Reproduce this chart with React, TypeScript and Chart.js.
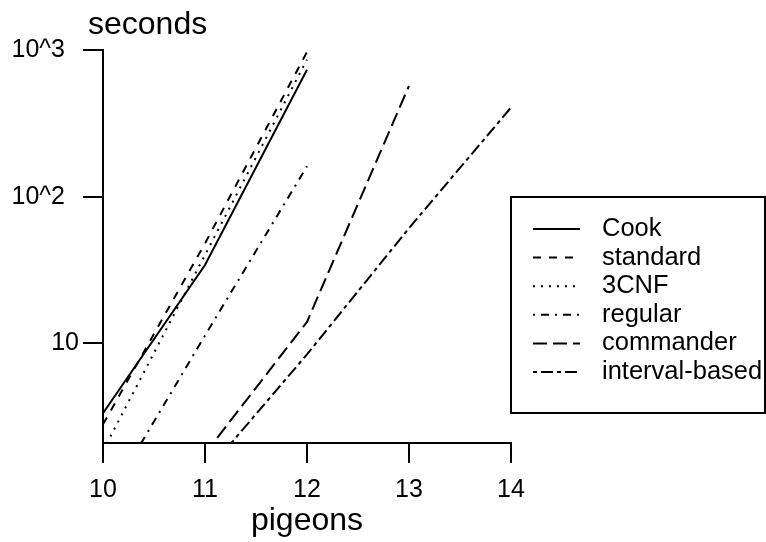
import React, { useEffect, useRef } from 'react';
import { Chart, registerables } from 'chart.js';

Chart.register(...registerables);

// ---- data ----
const seriesNames = ['Cook', 'standard', '3CNF', 'regular', 'commander', 'interval-based'];
const cookX = [10, 11, 12];
const cookY = [3.34, 34.2, 734];
const standardX = [10, 11, 12];
const standardY = [2.8, 48, 970];
const cnfX = [10, 11, 12];
const cnfY = [1.85, 40, 860];
const regularX = [10, 11, 12];
const regularY = [0.76, 11.3, 161];
const commanderX = [11, 12, 13];
const commanderY = [1.77, 14.0, 570];
const intervalX = [11, 12, 13, 14];
const intervalY = [1.29, 8.4, 61, 405];
const xTickValues = [10, 11, 12, 13, 14];
const yTickValues = [10, 100, 1000];
const yTickLabels = ['10', '10^2', '10^3'];
const xTitle = 'pigeons';
const yTitle = 'seconds';

// ---- styles ----
const FONT = '"Liberation Sans", Arial, Helvetica, sans-serif';
const DASHES: number[][] = [[], [8, 8], [2, 6], [2, 6, 8, 6], [14, 6], [4, 4, 12, 4]];

const xs = [cookX, standardX, cnfX, regularX, commanderX, intervalX];
const ys = [cookY, standardY, cnfY, regularY, commanderY, intervalY];

const rPlugin = {
  id: 'rStyle',
  afterDraw(chart: any) {
    const ctx = chart.ctx as CanvasRenderingContext2D;
    const area = chart.chartArea;
    const yScale = chart.scales.y;
    ctx.save();
    ctx.fillStyle = '#000';
    ctx.strokeStyle = '#000';

    // y tick labels
    ctx.font = `25px ${FONT}`;
    ctx.textBaseline = 'middle';
    ctx.textAlign = 'right';
    yTickValues.forEach((v, i) => {
      const py = yScale.getPixelForValue(v);
      const lab = yTickLabels[i];
      const right = lab.length > 2 ? area.left - 38 : area.left - 24;
      ctx.fillText(lab, right, py);
    });

    // axis titles
    ctx.font = `32px ${FONT}`;
    ctx.textBaseline = 'alphabetic';
    ctx.textAlign = 'left';
    ctx.fillText(yTitle, 88, 34);
    ctx.textAlign = 'center';
    ctx.fillText(xTitle, (area.left + area.right) / 2, 530);

    // legend
    const bx = 511, by = 197, bw = 254, bh = 216;
    ctx.lineWidth = 2;
    ctx.setLineDash([]);
    ctx.strokeRect(bx, by, bw, bh);
    ctx.font = `25.5px ${FONT}`;
    ctx.textAlign = 'left';
    ctx.textBaseline = 'middle';
    chart.data.datasets.forEach((ds: any, i: number) => {
      const ry = 229 + i * 28.6;
      ctx.beginPath();
      ctx.setLineDash(ds.borderDash || []);
      ctx.lineWidth = 2;
      ctx.moveTo(533, ry);
      ctx.lineTo(580, ry);
      ctx.stroke();
      ctx.setLineDash([]);
      ctx.fillText(ds.label, 602, ry);
    });
    ctx.restore();
  },
};

export default function App() {
  const ref = useRef<HTMLCanvasElement | null>(null);
  useEffect(() => {
    if (!ref.current) return;
    const datasets = seriesNames.map((name, i) => ({
      label: name,
      data: xs[i].map((x, j) => ({ x, y: ys[i][j] })),
      borderColor: '#000',
      backgroundColor: '#000',
      borderWidth: 2,
      borderDash: DASHES[i],
      pointRadius: 0,
      fill: false,
      tension: 0,
    }));
    const chart = new Chart(ref.current, {
      type: 'line',
      data: { datasets },
      plugins: [rPlugin],
      options: {
        responsive: false,
        animation: false,
        devicePixelRatio: 1,
        layout: { padding: { left: 0, top: 50, right: 255, bottom: 0 } },
        plugins: { legend: { display: false }, tooltip: { enabled: false } },
        scales: {
          x: {
            type: 'linear',
            min: 10,
            max: 14,
            afterBuildTicks: (s: any) => {
              s.ticks = xTickValues.map((v) => ({ value: v }));
            },
            afterFit: (s: any) => {
              s.height = 99;
            },
            ticks: {
              color: '#000',
              font: { family: FONT, size: 25 },
              padding: 12,
              maxRotation: 0,
              autoSkip: false,
            },
            grid: {
              drawOnChartArea: false,
              drawTicks: true,
              tickLength: 20,
              tickColor: '#000',
              tickWidth: 2,
              color: '#000',
              lineWidth: 2,
            },
            border: { display: true, color: '#000', width: 2 },
          },
          y: {
            type: 'logarithmic',
            min: 2.09,
            max: 1000,
            afterBuildTicks: (s: any) => {
              s.ticks = yTickValues.map((v) => ({ value: v }));
            },
            afterFit: (s: any) => {
              s.width = 103;
            },
            ticks: { display: false },
            grid: {
              drawOnChartArea: false,
              drawTicks: true,
              tickLength: 20,
              tickColor: '#000',
              tickWidth: 2,
              color: '#000',
              lineWidth: 2,
            },
            border: { display: true, color: '#000', width: 2 },
          },
        },
      } as any,
    });
    return () => chart.destroy();
  }, []);
  return (
    <div style={{ position: 'absolute', left: 0, top: 0, width: 766, height: 542, background: '#fff' }}>
      <canvas ref={ref} width={766} height={542} style={{ display: 'block' }} />
    </div>
  );
}
